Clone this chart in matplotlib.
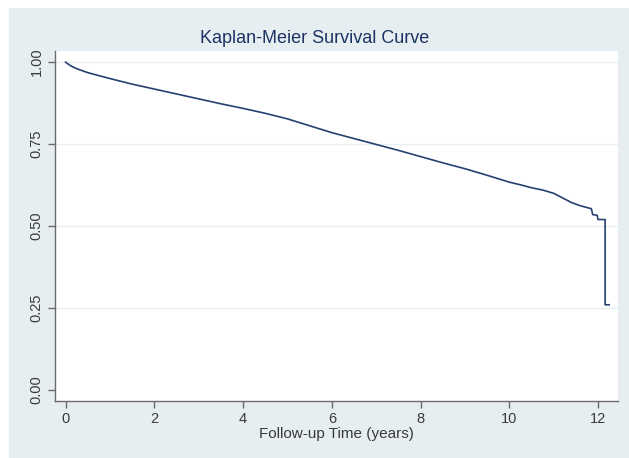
import matplotlib

matplotlib.use("Agg")
import matplotlib.pyplot as plt  # noqa: E402
from matplotlib.patches import Rectangle  # noqa: E402

# Kaplan-Meier estimate (years, survival probability)
time_years = [0.0, 0.1, 0.25, 0.5, 0.75, 1.0, 1.5, 2.0, 2.5, 3.0, 3.5, 4.0,
              4.5, 5.0, 5.5, 6.0, 6.5, 7.0, 7.5, 8.0, 8.5, 9.0, 9.5, 10.0,
              10.25, 10.5, 10.75, 11.0, 11.2, 11.4, 11.6, 11.85, 11.88,
              11.98, 12.0, 12.16, 12.16, 12.25]
survival = [1.000, 0.990, 0.980, 0.968, 0.959, 0.950, 0.933, 0.918, 0.903,
            0.888, 0.873, 0.859, 0.844, 0.827, 0.806, 0.785, 0.767, 0.749,
            0.731, 0.712, 0.693, 0.675, 0.655, 0.634, 0.626, 0.617, 0.610,
            0.600, 0.586, 0.572, 0.562, 0.553, 0.535, 0.533, 0.520, 0.520,
            0.260, 0.260]

x_ticks = [0, 2, 4, 6, 8, 10, 12]
y_ticks = [0.00, 0.25, 0.50, 0.75, 1.00]

BG = "#e6eef1"
NAVY = "#1c3363"
LINE = "#26416f"

plt.rcParams["font.family"] = ["Liberation Sans", "DejaVu Sans"]

fig = plt.figure(figsize=(6.29, 4.58), dpi=100, facecolor="white")
# graph region (the screenshot leaves a thin white strip at left and top)
fig.patches.append(Rectangle((9 / 629, 0), 1 - 9 / 629, 1 - 8 / 458,
                             transform=fig.transFigure, facecolor=BG,
                             edgecolor="none", zorder=-10))

ax = fig.add_axes([0.0874, 0.1245, 0.8951, 0.7641])
ax.set_facecolor("white")

for y in y_ticks[1:]:
    ax.axhline(y, color="#e9f1f3", lw=1.0, zorder=1)

ax.plot(time_years, survival, color=LINE, lw=1.2, zorder=3)

ax.set_xlim(-0.24, 12.45)
ax.set_ylim(-0.0335, 1.034)
ax.set_xticks(x_ticks)
ax.set_yticks(y_ticks)
ax.set_yticklabels([f"{v:.2f}" for v in y_ticks], rotation=90, va="center")

for side in ("top", "right"):
    ax.spines[side].set_visible(False)
for side in ("left", "bottom"):
    ax.spines[side].set_color("#6b6b6b")
    ax.spines[side].set_linewidth(1.0)

ax.tick_params(axis="both", colors="#6b6b6b", labelcolor="#3a3a3a",
               length=5, width=1.0, labelsize=10.5, pad=3)

ax.set_xlabel("Follow-up Time (years)", fontsize=11, color="#3a3a3a", labelpad=1)
fig.suptitle("Kaplan-Meier Survival Curve", fontsize=13, color=NAVY, y=0.935)

fig.savefig("out.png", dpi=100, facecolor="white")
